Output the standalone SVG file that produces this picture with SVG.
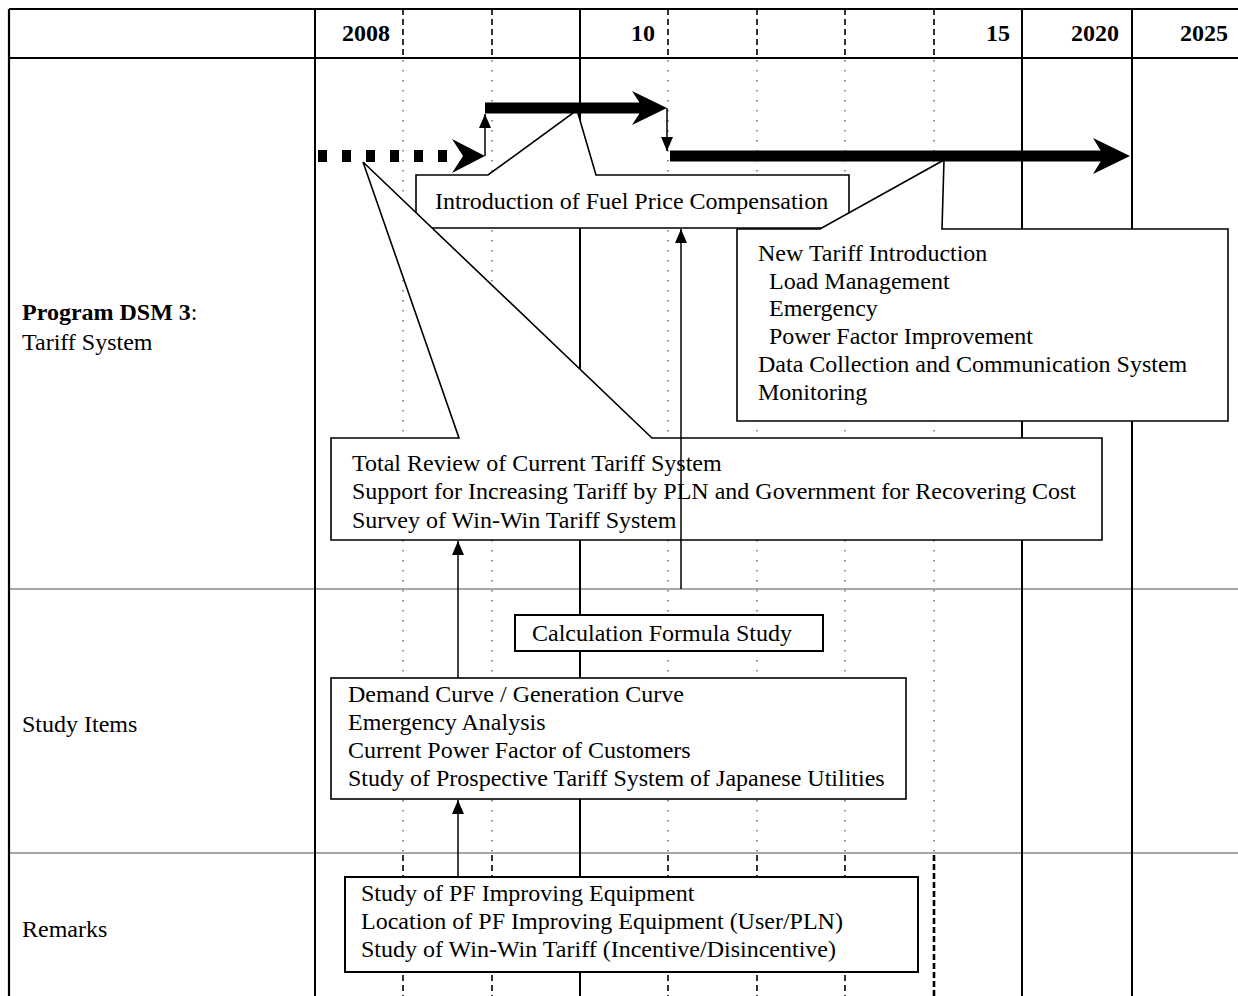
<svg xmlns="http://www.w3.org/2000/svg" width="1238" height="996" viewBox="0 0 1238 996">
  <defs>
    <marker id="tip" markerUnits="userSpaceOnUse" markerWidth="16" markerHeight="14" refX="14" refY="7" orient="auto">
      <path d="M0,1 L14,7 L0,13 z" fill="#000"/>
    </marker>
  </defs>
  <style>
    .t{font-family:"Liberation Serif","Times New Roman",serif;font-size:24px;fill:#000}
    .b{font-weight:bold}
    .frame{stroke:#000;stroke-width:2.2;fill:none}
    .solid{stroke:#000;stroke-width:2}
    .dash{stroke:#000;stroke-width:1.6;stroke-dasharray:6 4}
    .dot{stroke:#777;stroke-width:1.6;stroke-dasharray:1.6 8.4}
    .bdash{stroke:#000;stroke-width:2.6;stroke-dasharray:6 3}
    .sep{stroke:#888;stroke-width:1.3}
    .box{fill:#fff;stroke:#000;stroke-width:1.6}
    .box2{fill:#fff;stroke:#000;stroke-width:2}
    .thick{stroke:#000;stroke-width:11;fill:none}
    .thin{stroke:#000;stroke-width:1.5;fill:none;marker-end:url(#tip)}
  </style>

  <!-- table grid -->
  <g id="grid">
    <line class="frame" x1="9" y1="9" x2="1238" y2="9"/>
    <line class="frame" x1="9" y1="58" x2="1238" y2="58"/>
    <line class="sep" x1="9" y1="589" x2="1238" y2="589"/>
    <line class="sep" x1="9" y1="853" x2="1238" y2="853"/>
    <line class="frame" x1="9" y1="9" x2="9" y2="996"/>
    <line class="solid" x1="315" y1="9" x2="315" y2="996"/>
    <line class="solid" x1="580" y1="9" x2="580" y2="996"/>
    <line class="solid" x1="1022" y1="9" x2="1022" y2="996"/>
    <line class="solid" x1="1132" y1="9" x2="1132" y2="996"/>
    <!-- intermediate years: dashed in header, dotted in body, dashed in remarks -->
    <g>
      <line class="dash" x1="403" y1="9" x2="403" y2="58"/>
      <line class="dash" x1="492" y1="9" x2="492" y2="58"/>
      <line class="dash" x1="668" y1="9" x2="668" y2="58"/>
      <line class="dash" x1="757" y1="9" x2="757" y2="58"/>
      <line class="dash" x1="845" y1="9" x2="845" y2="58"/>
      <line class="dash" x1="934" y1="9" x2="934" y2="58"/>
      <line class="dot" x1="403" y1="60" x2="403" y2="853"/>
      <line class="dot" x1="492" y1="60" x2="492" y2="853"/>
      <line class="dot" x1="668" y1="60" x2="668" y2="853"/>
      <line class="dot" x1="757" y1="60" x2="757" y2="853"/>
      <line class="dot" x1="845" y1="60" x2="845" y2="853"/>
      <line class="dot" x1="934" y1="60" x2="934" y2="853"/>
      <line class="dash" x1="403" y1="855" x2="403" y2="996"/>
      <line class="dash" x1="492" y1="855" x2="492" y2="996"/>
      <line class="dash" x1="668" y1="855" x2="668" y2="996"/>
      <line class="dash" x1="757" y1="855" x2="757" y2="996"/>
      <line class="dash" x1="845" y1="855" x2="845" y2="996"/>
      <line class="bdash" x1="934" y1="855" x2="934" y2="996"/>
    </g>
  </g>

  <g id="header">
    <text class="t b" x="390" y="41" text-anchor="end">2008</text>
    <text class="t b" x="655" y="41" text-anchor="end">10</text>
    <text class="t b" x="1010" y="41" text-anchor="end">15</text>
    <text class="t b" x="1119" y="41" text-anchor="end">2020</text>
    <text class="t b" x="1228" y="41" text-anchor="end">2025</text>
  </g>

  <g id="row-labels">
    <text class="t" x="22" y="320"><tspan class="b">Program DSM 3</tspan>:</text>
    <text class="t" x="22" y="350">Tariff System</text>
    <text class="t" x="22" y="732">Study Items</text>
    <text class="t" x="22" y="937">Remarks</text>
  </g>

  <g id="fuel-price">
    <path class="box" d="M416,175 H488 L577,110 L596,175 H849 V228 H416 Z"/>
    <text class="t" x="435" y="209">Introduction of Fuel Price Compensation</text>
  </g>

  <g id="new-tariff">
    <path class="box" d="M737,229 H820 L944,160 L942,229 H1228 V421 H737 Z"/>
    <text class="t" x="758" y="261">New Tariff Introduction</text>
    <text class="t" x="769" y="289">Load Management</text>
    <text class="t" x="769" y="316">Emergency</text>
    <text class="t" x="769" y="344">Power Factor Improvement</text>
    <text class="t" x="758" y="372">Data Collection and Communication System</text>
    <text class="t" x="758" y="400">Monitoring</text>
  </g>

  <g id="total-review">
    <path class="box" d="M331,438 H459 L363,162 L652,438 H1102 V540 H331 Z"/>
    <text class="t" x="352" y="471">Total Review of Current Tariff System</text>
    <text class="t" x="352" y="499">Support for Increasing Tariff by PLN and Government for Recovering Cost</text>
    <text class="t" x="352" y="528">Survey of Win-Win Tariff System</text>
  </g>

  <g id="calc-formula">
    <rect class="box2" x="515" y="615" width="308" height="36"/>
    <text class="t" x="532" y="641">Calculation Formula Study</text>
  </g>

  <g id="study-items">
    <rect class="box" x="331" y="678" width="575" height="121"/>
    <text class="t" x="348" y="702">Demand Curve / Generation Curve</text>
    <text class="t" x="348" y="730">Emergency Analysis</text>
    <text class="t" x="348" y="758">Current Power Factor of Customers</text>
    <text class="t" x="348" y="786">Study of Prospective Tariff System of Japanese Utilities</text>
  </g>

  <g id="remarks">
    <rect class="box2" x="345" y="877" width="573" height="95"/>
    <text class="t" x="361" y="901">Study of PF Improving Equipment</text>
    <text class="t" x="361" y="929">Location of PF Improving Equipment (User/PLN)</text>
    <text class="t" x="361" y="957">Study of Win-Win Tariff (Incentive/Disincentive)</text>
  </g>

  <g id="connectors">
    <!-- preparatory phase, dashed -->
    <path d="M318,156 H450" stroke="#000" stroke-width="12" stroke-dasharray="9 15" fill="none"/>
    <polygon points="452,139 485,156 452,173 463,156" fill="#000"/>
    <path class="thin" d="M485,156 V114"/>
    <!-- fuel price compensation phase -->
    <path class="thick" d="M485,108 H645"/>
    <polygon points="632,91 667,108 632,125 643,108" fill="#000"/>
    <path class="thin" d="M667,108 V151"/>
    <!-- new tariff phase -->
    <path class="thick" d="M670,156 H1105"/>
    <polygon points="1093,138 1130,156 1093,174 1104,156" fill="#000"/>
    <!-- study feeds -->
    <path class="thin" d="M681,589 V229"/>
    <path class="thin" d="M458,678 V541"/>
    <path class="thin" d="M458,877 V800"/>
  </g>
</svg>
